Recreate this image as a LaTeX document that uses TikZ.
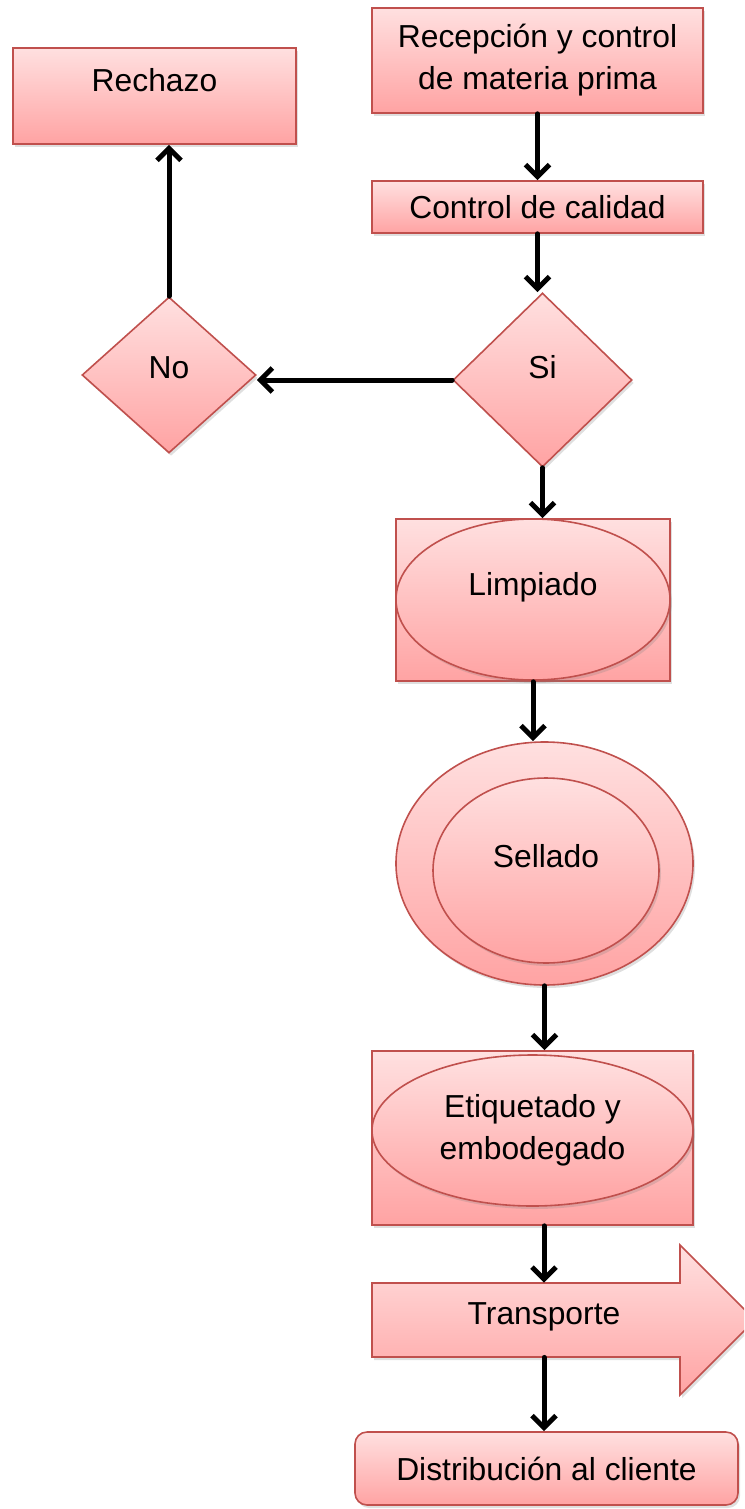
\documentclass[tikz,border=0pt]{standalone}
\usepackage{fontspec}
\setmainfont{Liberation Sans}
\usetikzlibrary{positioning, shapes, arrows.meta, shadows}
\definecolor{boxtop}{RGB}{255,224,224}
\definecolor{boxbot}{RGB}{255,163,163}
\definecolor{boxline}{RGB}{192,80,77}

\begin{document}
\begin{tikzpicture}[x=0.5pt, y=-0.5pt,
        txt/.style={font=\fontsize{15.9}{21}\selectfont, align=center, inner sep=0pt},
        box/.style={txt, draw=boxline, line width=0.8pt, top color=boxtop, bottom color=boxbot,
            drop shadow={opacity=0.25, shadow xshift=1pt, shadow yshift=-1.5pt}},
        lift/.style={text height=11.4pt, text depth=#1},
        arr/.style={line width=2.5pt, line cap=round, -{Straight Barb[length=6pt, width=12pt]}}]

            \useasboundingbox (0,0) rectangle (744,1509);
            \clip (0,0) rectangle (744,1509);

            \node[box, minimum width=165.5pt, minimum height=52.5pt] (recep) at (537.5,60.5) {Recepción y control\\de materia prima};
            \node[box, minimum width=165.5pt, minimum height=26pt] (ctrl) at (537.5,207) {Control de calidad};
            \node[box, lift=16pt, minimum width=141.5pt, minimum height=48pt] (rech) at (154.5,96) {Rechazo};
            \node[box, diamond, lift=8pt, minimum width=87pt, minimum height=78pt] (no) at (169,375) {No};
            \node[box, diamond, lift=13pt, minimum width=89.5pt, minimum height=87pt] (si) at (542.5,380) {Si};

            \node[box, minimum width=137pt, minimum height=81pt] (limpBox) at (533,600) {};
            \node[box, ellipse, lift=15pt, minimum width=137pt, minimum height=80.5pt] (limp) at (533,599.5) {Limpiado};

            \node[box, ellipse, minimum width=148.5pt, minimum height=121.5pt] (sellOut) at (544.5,863.5) {};
            \node[box, ellipse, lift=14pt, minimum width=113pt, minimum height=92.5pt] (sell) at (546,870.5) {Sellado};

            \node[box, minimum width=160.5pt, minimum height=87pt] (etiqBox) at (532.5,1138) {};
            \node[box, ellipse, minimum width=160.5pt, minimum height=75.5pt] (etiq) at (532.5,1130.5) {Etiquetado y\\embodegado};

            % Transporte arrow
            \draw[box] (372,1283) -- (680,1283) -- (680,1245) -- (755,1320) -- (680,1395) -- (680,1357) -- (372,1357) -- cycle;
            \node[txt, lift=7pt, minimum width=172pt, minimum height=37pt] (trans) at (544,1320) {Transporte};

            \node[box, rounded corners=6pt, minimum width=191.5pt, minimum height=36.5pt] (dist) at (546.5,1468.5) {Distribución al cliente};

            % Draw edges
            \draw[arr] (recep) -- (ctrl);
            \draw[arr] (ctrl) -- (ctrl |- si.north);
            \draw[arr] (si) -- (si -| no.east);
            \draw[arr] (no) -- (no |- rech.south);
            \draw[arr] (si) -- (si |- limpBox.north);
            \draw[arr] (limpBox) -- (limpBox |- sellOut.north);
            \draw[arr] (sellOut) -- (sellOut |- etiqBox.north);
            \draw[arr] (trans.north |- etiqBox.south) -- (trans.north);
            \draw[arr] (trans) -- (trans |- dist.north);

        \end{tikzpicture}
\end{document}
